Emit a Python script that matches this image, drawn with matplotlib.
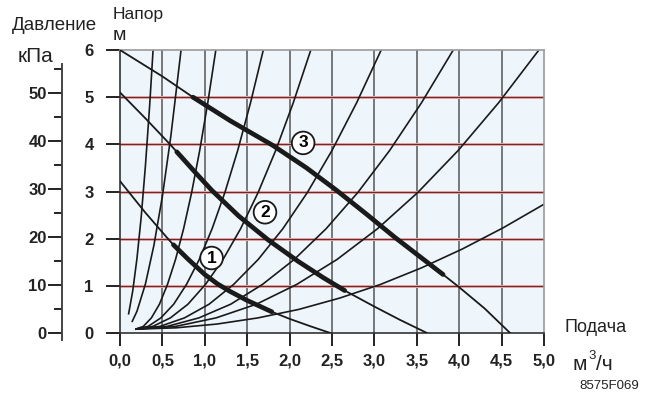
import matplotlib
matplotlib.use("Agg")
import matplotlib.pyplot as plt

plt.rcParams['font.family'] = ['Liberation Sans', 'DejaVu Sans']

# ---- axis ticks ----
x_ticks = [0.0, 0.5, 1.0, 1.5, 2.0, 2.5, 3.0, 3.5, 4.0, 4.5, 5.0]
x_labels = ["0,0", "0,5", "1,0", "1,5", "2,0", "2,5", "3,0", "3,5", "4,0", "4,5", "5,0"]
m_ticks = [0, 1, 2, 3, 4, 5, 6]
kpa_major = [0, 10, 20, 30, 40, 50]
kpa_minor = [5, 15, 25, 35, 45, 55]

# ---- pump curves (flow m3/h, head m) ----
pump1_x = [0.0, 0.3, 0.55, 0.63, 0.8, 1.0, 1.15, 1.3, 1.5, 1.79, 2.0, 2.25, 2.48]
pump1_y = [3.22, 2.55, 2.03, 1.87, 1.57, 1.24, 1.04, 0.88, 0.69, 0.45, 0.30, 0.14, 0.0]
pump1_thick_x = [0.63, 0.8, 1.0, 1.15, 1.3, 1.5, 1.79]
pump1_thick_y = [1.87, 1.57, 1.24, 1.04, 0.88, 0.69, 0.45]

pump2_x = [0.0, 0.3, 0.59, 0.67, 0.9, 1.08, 1.4, 1.75, 2.1, 2.4, 2.65, 3.0, 3.3, 3.62]
pump2_y = [5.1, 4.55, 4.0, 3.84, 3.38, 3.03, 2.48, 1.97, 1.52, 1.17, 0.90, 0.56, 0.28, 0.0]
pump2_thick_x = [0.67, 0.9, 1.08, 1.4, 1.75, 2.1, 2.4, 2.65]
pump2_thick_y = [3.84, 3.38, 3.03, 2.48, 1.97, 1.52, 1.17, 0.90]

pump3_x = [0.0, 0.5, 0.86, 1.3, 1.8, 2.2, 2.55, 2.9, 3.24, 3.55, 3.81, 4.0, 4.3, 4.6]
pump3_y = [6.0, 5.44, 5.0, 4.5, 3.98, 3.5, 3.03, 2.53, 2.03, 1.6, 1.24, 0.97, 0.52, 0.0]
pump3_thick_x = [0.86, 1.3, 1.8, 2.2, 2.55, 2.9, 3.24, 3.55, 3.81]
pump3_thick_y = [5.0, 4.5, 3.98, 3.5, 3.03, 2.53, 2.03, 1.6, 1.24]

# ---- system curves ----
sys1_x = [0.10, 0.15, 0.20, 0.25, 0.30, 0.35, 0.39]
sys1_y = [0.39, 0.89, 1.58, 2.46, 3.55, 4.83, 6.0]
sys2_x = [0.14, 0.20, 0.30, 0.40, 0.50, 0.60, 0.72]
sys2_y = [0.23, 0.46, 1.04, 1.86, 2.90, 4.18, 6.0]
fan_y = [0.08, 0.14, 0.32, 0.61, 1.03, 1.56, 2.21, 2.98, 3.87, 4.88, 6.0]
sys3_x = [0.18, 0.275, 0.37, 0.465, 0.56, 0.655, 0.75, 0.845, 0.94, 1.035, 1.13]
sys4_x = [0.18, 0.331, 0.482, 0.633, 0.784, 0.935, 1.086, 1.237, 1.388, 1.539, 1.69]
sys5_x = [0.18, 0.387, 0.594, 0.801, 1.008, 1.215, 1.422, 1.629, 1.836, 2.043, 2.25]
sys6_x = [0.18, 0.47, 0.76, 1.05, 1.34, 1.63, 1.92, 2.21, 2.50, 2.79, 3.08]
sys7_x = [0.18, 0.555, 0.93, 1.305, 1.68, 2.055, 2.43, 2.805, 3.18, 3.555, 3.93]
sys8_x = [0.18, 0.656, 1.132, 1.608, 2.084, 2.56, 3.036, 3.512, 3.988, 4.464, 4.94]
sys9_x = [0.18, 0.662, 1.144, 1.626, 2.108, 2.59, 3.072, 3.554, 4.036, 4.518, 5.0]
sys9_y = [0.08, 0.11, 0.19, 0.32, 0.50, 0.74, 1.03, 1.38, 1.78, 2.23, 2.73]

labels_pos = [("1", 1.08, 1.59), ("2", 1.71, 2.56), ("3", 2.16, 4.03)]

W, H = 654, 394
fig = plt.figure(figsize=(W / 100, H / 100), dpi=100)
ax = fig.add_axes([120 / W, 61 / H, 424 / W, 283 / H])
ax.set_xlim(0, 5)
ax.set_ylim(0, 6)
ax.set_facecolor('#eef6fc')

for xv in x_ticks[1:-1]:
    ax.axvline(xv, color='#555555', lw=1.1, zorder=1)
for yv in m_ticks[1:-1]:
    ax.axhline(yv, color='#e8b8b8', lw=2.2, zorder=1)
    ax.axhline(yv, color='#7a2525', lw=0.9, zorder=1.1)

lc = '#1a1a1a'
sys_curves = [(sys1_x, sys1_y), (sys2_x, sys2_y), (sys3_x, fan_y), (sys4_x, fan_y),
              (sys5_x, fan_y), (sys6_x, fan_y), (sys7_x, fan_y), (sys8_x, fan_y),
              (sys9_x, sys9_y)]
for sx, sy in sys_curves:
    ax.plot(sx, sy, color=lc, lw=1.2, zorder=2, solid_capstyle='butt')

for px, py in [(pump1_x, pump1_y), (pump2_x, pump2_y), (pump3_x, pump3_y)]:
    ax.plot(px, py, color=lc, lw=1.3, zorder=3)
for px, py in [(pump1_thick_x, pump1_thick_y), (pump2_thick_x, pump2_thick_y),
               (pump3_thick_x, pump3_thick_y)]:
    ax.plot(px, py, color=lc, lw=3.4, zorder=3, solid_capstyle='round')

for t, lx, ly in labels_pos:
    ax.text(lx, ly, t, ha='center', va='center', fontsize=12.5, fontweight='bold',
            zorder=5, bbox=dict(boxstyle='circle,pad=0.22', fc='white', ec='#1a1a1a', lw=1.3))

for s in ['top', 'right']:
    ax.spines[s].set_color('#9a9a9a')
    ax.spines[s].set_linewidth(1.2)
for s in ['left', 'bottom']:
    ax.spines[s].set_color('#333333')
    ax.spines[s].set_linewidth(1.2)

ax.set_xticks(x_ticks)
ax.set_xticklabels(x_labels, fontsize=12, fontweight='bold', color='#222222')
ax.set_yticks(m_ticks)
ax.set_yticklabels([str(v) for v in m_ticks], fontsize=12, fontweight='bold', color='#222222')
ax.tick_params(axis='x', direction='out', length=9, width=1.4, pad=6, color='#222222')
ax.tick_params(axis='y', direction='out', length=10, width=1.4, pad=9, color='#222222')

# kPa axis
ax2 = fig.add_axes([62 / W, 61 / H, 0.002, 283 / H])
ax2.set_ylim(0, 6 * 9.81)
ax2.set_xlim(0, 1)
ax2.patch.set_visible(False)
for s in ['top', 'right', 'bottom']:
    ax2.spines[s].set_visible(False)
ax2.spines['left'].set_color('#444444')
ax2.spines['left'].set_linewidth(1.4)
ax2.spines['left'].set_bounds(-1.5, 56)
ax2.set_xticks([])
ax2.set_yticks(kpa_major)
ax2.set_yticklabels([str(v) for v in kpa_major], fontsize=12, fontweight='bold', color='#222222')
ax2.set_yticks(kpa_minor, minor=True)
ax2.tick_params(axis='y', which='major', direction='out', length=10, width=1.4, pad=1, color='#222222')
ax2.tick_params(axis='y', which='minor', direction='out', length=5.5, width=1.4, color='#222222')

def ftext(x, y, s, **kw):
    fig.text(x / W, 1 - y / H, s, **kw)

tc = '#222222'
ftext(12, 25, "Давление", fontsize=13.5, ha='left', va='center', color=tc)
ftext(18, 56, "кПа", fontsize=15, ha='left', va='center', color=tc)
ftext(113, 15, "Напор", fontsize=12.5, ha='left', va='center', color=tc)
ftext(113, 36, "м", fontsize=14, ha='left', va='center', color=tc)
ftext(564, 327, "Подача", fontsize=13, ha='left', va='center', color=tc)
ftext(572, 364, "м", fontsize=15, ha='left', va='center', color=tc)
ftext(588, 356, "3", fontsize=9.5, ha='left', va='center', color=tc)
ftext(596, 364, "/ч", fontsize=15, ha='left', va='center', color=tc)
ftext(579, 386, "8575F069", fontsize=9.5, ha='left', va='center', color=tc)

fig.savefig("out.png", dpi=100)
